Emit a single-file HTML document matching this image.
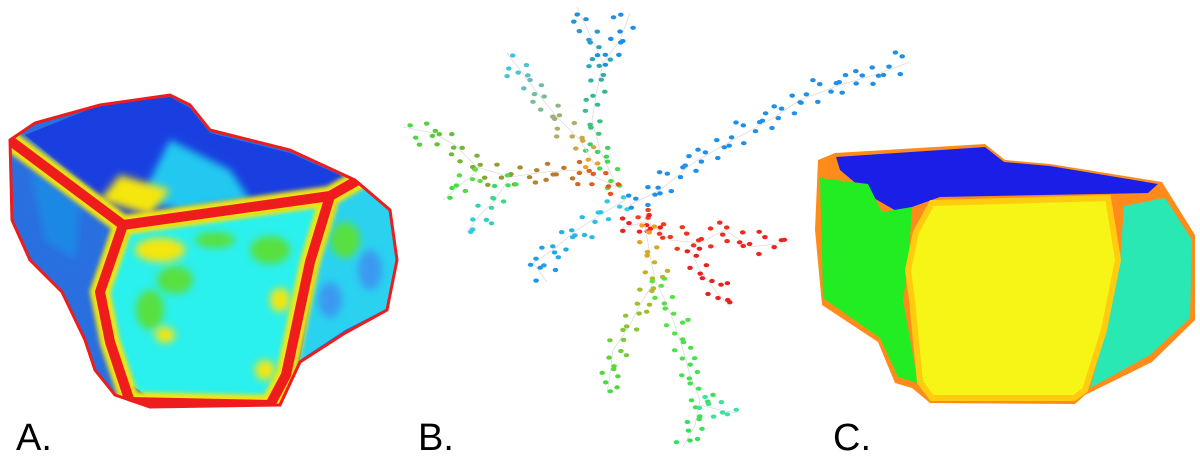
<!DOCTYPE html>
<html><head><meta charset="utf-8"><style>
html,body{margin:0;padding:0;background:#fff;}
svg{display:block;}
text{font-family:"Liberation Sans","DejaVu Sans",sans-serif;}
</style></head><body>
<svg id="fig" width="1200" height="459" viewBox="0 0 1200 459" xmlns="http://www.w3.org/2000/svg">
<defs>
<filter id="b2" x="-20%" y="-20%" width="140%" height="140%"><feGaussianBlur stdDeviation="2"/></filter>
<filter id="b4" x="-30%" y="-30%" width="160%" height="160%"><feGaussianBlur stdDeviation="4"/></filter>
<clipPath id="clipA"><path d="M10,140 L35,123 L100,105 L170,95 L190,105 L210,130 L290,150 L355,180 L390,210 L397,260 L387,310 L345,333 L300,362 L280,405 L150,407 L115,395 L95,370 L85,340 L62,292 L30,260 L12,220 Z"/></clipPath>
</defs>

<!-- Panel A -->
<g clip-path="url(#clipA)">
  <rect x="0" y="80" width="410" height="340" fill="#2a6fe0"/>
  <path d="M10,145 L118,228 L96,290 L104,345 L120,400 L95,370 L85,340 L62,292 L30,260 L10,220 Z" fill="#2a6fe0"/>
  <path d="M30,170 L80,205 L75,260 L45,240 Z" fill="#1e88e5" filter="url(#b4)"/>
  <path d="M25,135 L100,105 L170,97 L190,108 L210,133 L290,153 L355,182 L320,192 L125,218 Z" fill="#1a3fe0"/>
  <path d="M170,140 L230,170 L250,200 L180,210 L140,200 Z" fill="#22c8f0" filter="url(#b4)"/>
  <path d="M120,175 L170,190 L150,215 L100,200 Z" fill="#f5e60a" filter="url(#b4)"/>
  <path d="M130,232 L322,205 L305,262 L282,370 L268,398 L150,398 L125,380 L112,340 L106,292 Z" fill="#2af0ee"/>
  <g filter="url(#b4)">
    <ellipse cx="160" cy="250" rx="25" ry="12" fill="#f5e60a"/>
    <ellipse cx="175" cy="280" rx="18" ry="14" fill="#58e040"/>
    <ellipse cx="150" cy="310" rx="14" ry="20" fill="#58e040"/>
    <ellipse cx="165" cy="335" rx="10" ry="8" fill="#f5e60a"/>
    <ellipse cx="270" cy="250" rx="20" ry="14" fill="#58e040"/>
    <ellipse cx="280" cy="300" rx="10" ry="12" fill="#f5e60a"/>
    <ellipse cx="265" cy="370" rx="10" ry="10" fill="#f5e60a"/>
    <ellipse cx="215" cy="240" rx="20" ry="8" fill="#58e040"/>
  </g>
  <path d="M338,200 L358,185 L392,212 L398,260 L388,308 L345,330 L300,360 L318,262 Z" fill="#2ad2f0"/>
  <g filter="url(#b4)"><ellipse cx="345" cy="240" rx="15" ry="18" fill="#58e040"/><ellipse cx="330" cy="300" rx="12" ry="18" fill="#3a9af0"/><ellipse cx="370" cy="270" rx="12" ry="20" fill="#3a9af0"/></g>
  <g fill="none" stroke-linecap="round">
    <path d="M12,142 L123,225 L330,196 L358,180 M330,196 L310,262 L286,375 L270,405 M123,225 L100,292 L110,342 L130,402 L270,405" stroke="#f5e60a" stroke-width="20" filter="url(#b2)"/>
    <path d="M12,142 L123,225 L330,196 L358,180 M330,196 L310,262 L286,375 L270,405 M123,225 L100,292 L110,342 L130,402 L270,405" stroke="#ee1c1c" stroke-width="10"/>
  </g>
</g>
<path d="M10,140 L35,123 L100,105 L170,95 L190,105 L210,130 L290,150 L355,180 L390,210 L397,260 L387,310 L345,333 L300,362 L280,405 L150,407 L115,395 L95,370 L85,340 L62,292 L30,260 L12,220 Z" fill="none" stroke="#ee1c1c" stroke-width="3"/>

<!-- Panel C -->
<g>
  <path d="M818,160 L835,153 L985,144 L1005,160 L1050,164 L1162,182 L1195,235 L1195,320 L1152,362 L1085,395 L1075,404 L930,403 L912,388 L895,383 L878,342 L822,305 L815,230 Z" fill="#ff8c1a"/>
  <path d="M836,157 L985,147 L1004,162 L1050,166 L1158,184 L1148,193 L940,197 L898,212 L872,197 L840,170 Z" fill="#1a1ee6"/>
  <path d="M820,178 L868,184 L882,212 L912,207 L908,268 L903,300 L918,383 L898,377 L880,338 L823,298 Z" fill="#22ec22"/>
  <path d="M932,203 L1108,198 L1118,260 L1104,330 L1085,390 L1074,398 L932,398 L920,382 L912,300 L908,270 L916,232 Z" fill="#f7f515"/>
  <path d="M1124,206 L1165,198 L1192,240 L1190,318 L1150,355 L1090,388 L1106,330 L1120,262 Z" fill="#2ae8b4"/>
  <path d="M932,203 L1108,198 L1118,260 L1104,330 L1085,390 L1074,398 L932,398 L920,382 L912,300 L908,270 L916,232 Z" fill="none" stroke="#ffcc10" stroke-width="6"/>
</g>

<!-- Panel B -->
<g id="tree"></g>

<text x="16" y="450" font-size="38" fill="#000">A.</text>
<text x="418" y="450" font-size="38" fill="#000">B.</text>
<text x="833" y="450" font-size="38" fill="#000">C.</text>
</svg>
<script>
const branchPaths = [
  [[617,187],[600,150],[592,120],[597,90],[603,63],[590,35],[577,7]],
  [[603,63],[620,40],[630,13]],
  [[595,165],[580,140],[557,117],[535,90],[520,70],[507,53]],
  [[617,187],[580,170],[545,172],[510,177],[477,167],[455,145],[433,133],[403,127]],
  [[510,177],[495,200],[480,215],[467,232]],
  [[477,172],[460,185],[443,200]],
  [[625,200],[600,215],[573,233],[553,250],[533,263],[547,282]],
  [[630,205],[660,190],[693,163],[733,140],[770,120],[800,100],[840,85],[875,75],[910,62]],
  [[640,215],[670,240],[700,243],[725,230],[750,247],[783,243]],
  [[690,250],[700,270],[715,290],[730,307]],
  [[622,228],[645,222],[662,232]],
  [[645,225],[650,255],[655,280],[640,305],[630,325],[613,350],[610,375],[607,393]],
  [[655,280],[665,300],[675,325],[683,350],[690,375],[700,400],[695,425],[683,447]],
  [[700,405],[720,410],[737,413]]
];
const branchColorStart = ["#4ce040","#1e8ee8","#f0a020","#f05020","#40e050","#60e040","#30d0e0","#2090e8","#f04020","#e82020","#ee2020","#f0a020","#60e040","#40e0a0"];
const branchColorEnd   = ["#1e8ee8","#1e8ee8","#30c8f0","#40e040","#30c8f0","#30e040","#1e90e8","#1e8ee8","#ee2020","#ee2020","#ee2020","#40e040","#30e060","#40e0a0"];
const NS="http://www.w3.org/2000/svg";
const tree=document.getElementById('tree');
function hex(c){return [1,3,5].map(i=>parseInt(c.substr(i,2),16));}
function mix(a,b,t){const A=hex(a),B=hex(b);return 'rgb('+A.map((v,i)=>Math.round(v+(B[i]-v)*t)).join(',')+')';}
branchPaths.forEach((pts,bi)=>{
  let total=0;const segs=[];
  for(let i=1;i<pts.length;i++){const dx=pts[i][0]-pts[i-1][0],dy=pts[i][1]-pts[i-1][1];const l=Math.hypot(dx,dy);segs.push([pts[i-1],dx,dy,l]);total+=l;}
  const poly=document.createElementNS(NS,'polyline');
  poly.setAttribute('points',pts.map(p=>p.join(',')).join(' '));
  poly.setAttribute('fill','none');poly.setAttribute('stroke','#ddd');poly.setAttribute('stroke-width','0.8');
  
  
  tree.appendChild(poly);
  let acc=0,k=0;
  segs.forEach(([p,dx,dy,l])=>{
    const nx=-dy/l,ny=dx/l;
    for(let s=0;s<l;s+=8){
      const t=(acc+s)/total;const col=mix(branchColorStart[bi],branchColorEnd[bi],t);
      const x=p[0]+dx*s/l,y=p[1]+dy*s/l;
      const off=[[3,0],[-3,0],[8,1],[-8,-1]][k%4];
      [[x+nx*off[0],y+ny*off[0]]].concat(k%3===0?[[x-nx*(off[0]+6)+dx/l*3,y-ny*(off[0]+6)+dy/l*3]]:[]).forEach(q=>{
        const e=document.createElementNS(NS,'ellipse');
        e.setAttribute('cx',q[0].toFixed(1));e.setAttribute('cy',q[1].toFixed(1));
        e.setAttribute('rx','2.8');e.setAttribute('ry','2.1');e.setAttribute('fill',col);
        
        
        tree.appendChild(e);
      });
      k++;
    }
    acc+=l;
  });
});
</script>
</body></html>
